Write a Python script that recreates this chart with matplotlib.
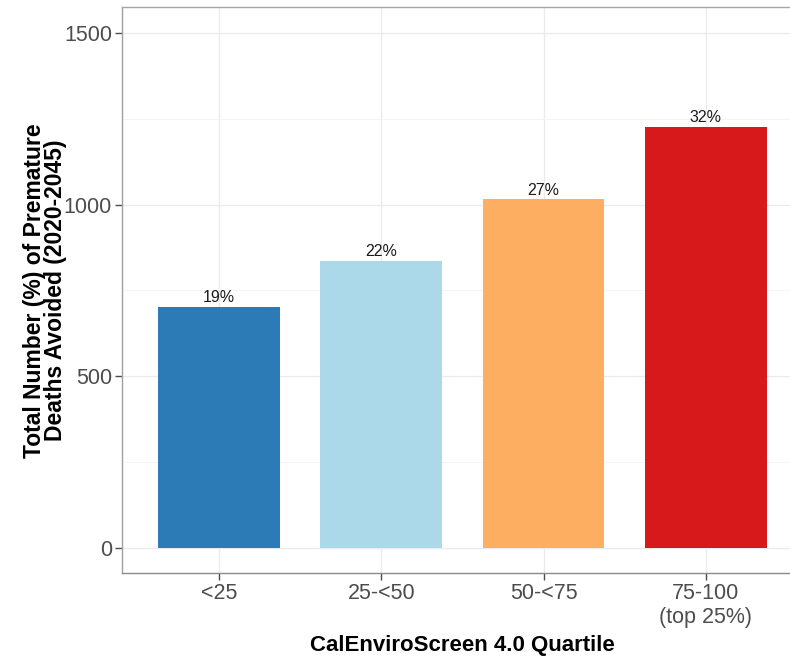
import matplotlib
matplotlib.use("Agg")
import matplotlib.pyplot as plt
from matplotlib.ticker import MultipleLocator

categories = ["<25", "25-<50", "50-<75", "75-100\n(top 25%)"]
deaths = [703, 837, 1015, 1227]
pct_labels = ["19%", "22%", "27%", "32%"]
colors = ["#2C7BB6", "#ABD9E9", "#FDAE61", "#D7191C"]

plt.rcParams['font.family'] = ['Liberation Sans', 'DejaVu Sans']

W, H = 790, 656
fig = plt.figure(figsize=(W / 100, H / 100), dpi=100)
ax = fig.add_axes([0.154, 0.1258, 0.8627, 0.8631])

x = list(range(1, len(categories) + 1))
ax.bar(x, deaths, width=0.75, color=colors, zorder=3)
for xi, v, lab in zip(x, deaths, pct_labels):
    ax.text(xi, v + 4, lab, ha="center", va="bottom", fontsize=11.5,
            color="#1a1a1a", zorder=4)

ax.set_xlim(0.4, 4.6)
ax.set_ylim(-75, 1575)
ax.set_xticks(x)
ax.set_xticklabels(categories, fontsize=15.5, color="#4D4D4D", linespacing=1.2)
ax.yaxis.set_major_locator(MultipleLocator(500))
ax.yaxis.set_minor_locator(MultipleLocator(250))
ax.tick_params(axis="y", which="minor", length=0)
ax.tick_params(axis="both", which="major", length=5, width=1, color="#4D4D4D",
               labelsize=15.5, labelcolor="#4D4D4D", pad=2)

ax.grid(True, which="major", color="#EBEBEB", linewidth=1.0, zorder=0)
ax.grid(True, which="minor", axis="y", color="#F2F2F2", linewidth=0.6, zorder=0)
ax.set_axisbelow(True)

for s in ax.spines.values():
    s.set_color("#A6A6A6")
    s.set_linewidth(1.0)
ax.spines["bottom"].set_color("#8A8A8A")
ax.spines["left"].set_color("#A0A0A0")

fig.text(462 / W, 1 - 651 / H, "CalEnviroScreen 4.0 Quartile", fontsize=16,
         fontweight="bold", color="black", ha="center", va="baseline")
fig.text(45 / W, 1 - 290.5 / H,
         "Total Number (%) of Premature\nDeaths Avoided (2020-2045)",
         fontsize=16.5, fontweight="bold", color="black", rotation=90,
         ha="center", va="center", multialignment="center", linespacing=0.88)

fig.savefig("out.png", dpi=100)
